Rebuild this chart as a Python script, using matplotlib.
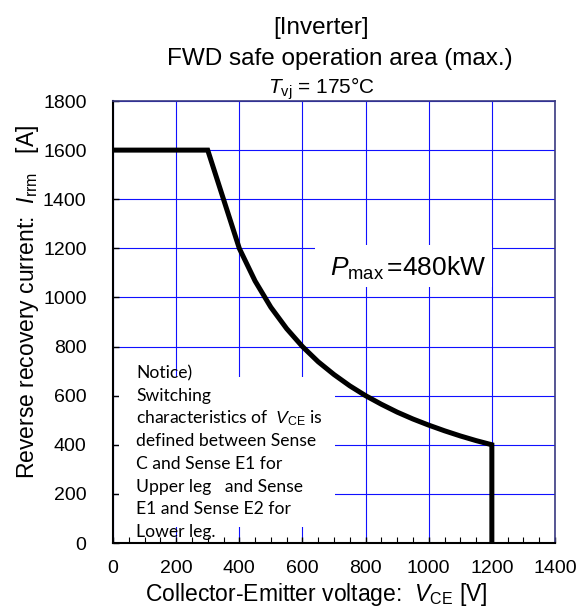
import matplotlib
matplotlib.use("Agg")
import matplotlib.pyplot as plt
from matplotlib.patches import Rectangle
from matplotlib.ticker import MultipleLocator

# ---- data ----
vce = [0, 300, 400, 450, 500, 550, 600, 650, 700, 750, 800, 850, 900, 950,
       1000, 1050, 1100, 1150, 1200, 1200]
irrm = [1600, 1600, 1200, 1067, 960, 873, 800, 738, 686, 640, 600, 565, 533, 505,
        480, 457, 436, 417, 400, 0]
x_ticks = [0, 200, 400, 600, 800, 1000, 1200, 1400]
y_ticks = [0, 200, 400, 600, 800, 1000, 1200, 1400, 1600, 1800]
notice_lines = [
    "Notice)",
    "Switching",
    r"characteristics of  $V_{\mathrm{CE}}$ is",
    "defined between Sense",
    "C and Sense E1 for",
    "Upper leg   and Sense",
    "E1 and Sense E2 for",
    "Lower leg.",
]

plt.rcParams['font.family'] = ['Liberation Sans', 'DejaVu Sans']
plt.rcParams['mathtext.fontset'] = 'custom'
plt.rcParams['mathtext.rm'] = 'Liberation Sans'
plt.rcParams['mathtext.it'] = 'Liberation Sans:italic'

fig = plt.figure(figsize=(5.78, 6.13), dpi=100)
ax = fig.add_axes([113/578, 1-543/613, (555-113)/578, (543-101)/613])

ax.set_xlim(0, 1400)
ax.set_ylim(0, 1800)
ax.set_xticks(x_ticks)
ax.set_yticks(y_ticks)
ax.xaxis.set_minor_locator(MultipleLocator(50))
ax.set_axisbelow(True)
ax.grid(True, which='major', color='#1010ff', linewidth=0.8)

ax.tick_params(axis='both', which='both', direction='in', top=False, right=False)
ax.tick_params(axis='x', which='major', length=4, width=1, labelsize=14, pad=12)
ax.tick_params(axis='x', which='minor', length=4, width=0.8)
ax.tick_params(axis='y', which='major', length=4, width=1, labelsize=14, pad=19)

for s in ['left', 'bottom']:
    ax.spines[s].set_color('black')
    ax.spines[s].set_linewidth(1.5)
for s in ['top', 'right']:
    ax.spines[s].set_color('#3a3a80')
    ax.spines[s].set_linewidth(1.2)

# white text-box backgrounds hiding the grid
ax.add_patch(Rectangle((20, 65), 682, 611, facecolor='white', edgecolor='none', zorder=1))
ax.add_patch(Rectangle((639, 1043), 560, 171, facecolor='white', edgecolor='none', zorder=1))

ax.plot(vce, irrm, color='black', linewidth=3.6, solid_joinstyle='miter', zorder=3)

ax.text(687, 1088, r"$P_{\mathrm{max}}\,$=480kW", fontsize=19, ha='left', va='baseline', zorder=4)

y0 = 692
for i, line in enumerate(notice_lines):
    ax.text(73, y0 - i*92.5, line, fontsize=12.6, family=['Lato', 'DejaVu Sans'],
            ha='left', va='center', zorder=4)

fig.text(316/578, 1-595/613, r"Collector-Emitter voltage:  $V_{\mathrm{CE}}$ [V]",
         fontsize=16.5, ha='center', va='center')
fig.text(0.048, 1-302/613, r"Reverse recovery current:  $I_{\mathrm{rrm}}$   [A]",
         fontsize=16.5, rotation=90, ha='center', va='center')

fig.text(321/578, 1-28/613, "[Inverter]", fontsize=17.5, ha='center', va='center')
fig.text(340/578, 1-59/613, "FWD safe operation area (max.)", fontsize=17.5, ha='center', va='center')
fig.text(321/578, 1-89/613, r"$T_{\mathrm{vj}}$ = 175°C", fontsize=15, ha='center', va='center')

fig.savefig("out.png", dpi=100)
